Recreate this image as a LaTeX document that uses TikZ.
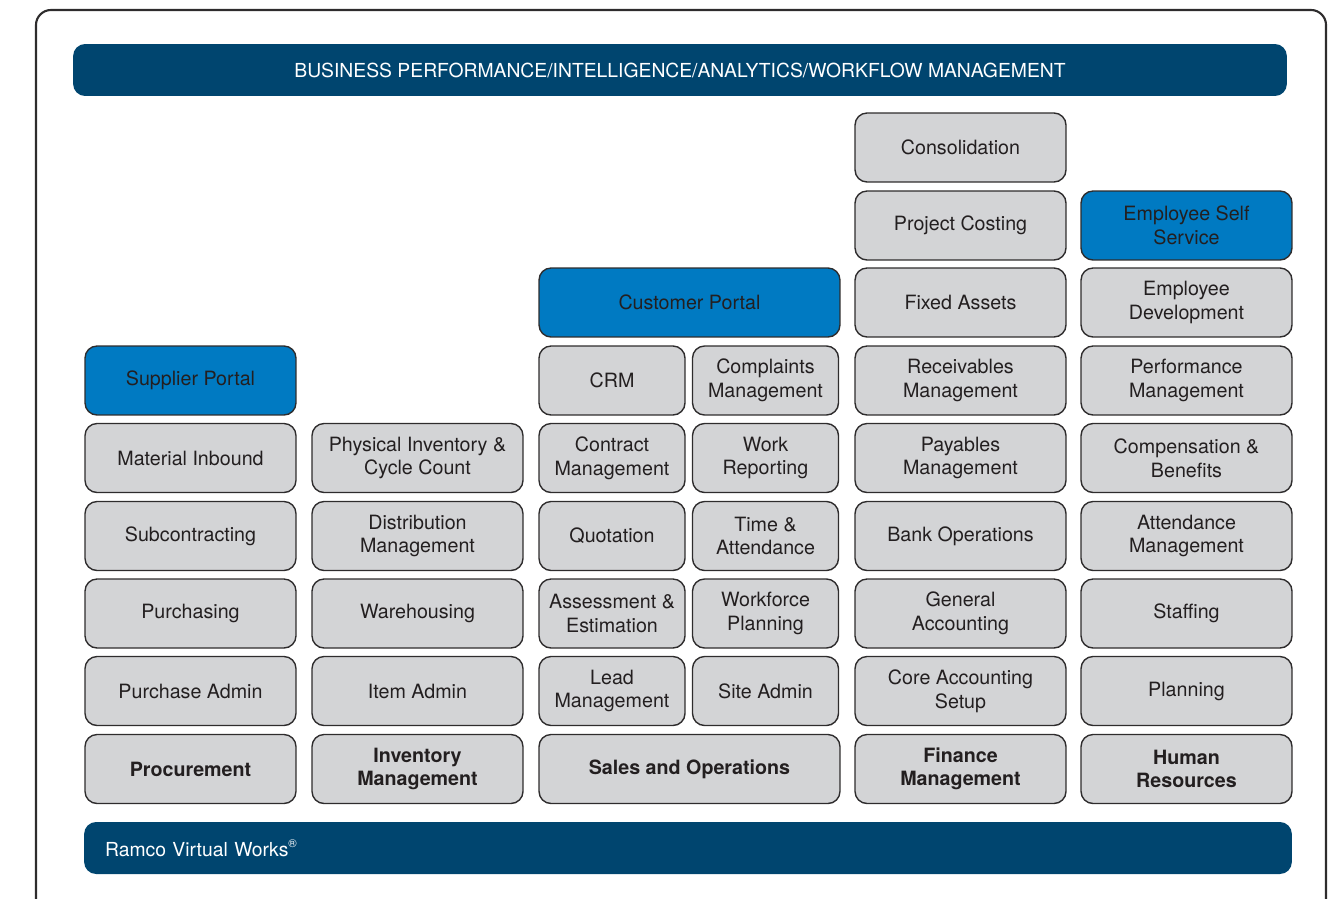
\documentclass[tikz,border=0pt]{standalone}
\usepackage{fontspec}
\setmainfont{TeX Gyre Heros}
\usetikzlibrary{positioning}
\definecolor{ramconavy}{HTML}{00456F}
\definecolor{portalblue}{HTML}{007AC2}
\definecolor{modgray}{HTML}{D3D4D6}
\definecolor{modline}{HTML}{2E2C2D}
\definecolor{ink}{HTML}{231F20}
\tikzset{
  modbox/.style={draw=modline, fill=modgray, line width=0.8pt, rounded corners=0.24cm,
    text=ink, align=center, inner sep=0pt, minimum width=4.22cm, minimum height=1.38cm,
    font=\fontsize{11.2}{13.6}\selectfont},
  halfbox/.style={modbox, minimum width=2.92cm},
  widebox/.style={modbox, minimum width=6.02cm},
  portal/.style={fill=portalblue},
  suite/.style={font=\fontsize{11.2}{13}\selectfont\bfseries},
  banner/.style={fill=ramconavy, rounded corners=0.24cm, inner sep=0pt, text=white,
    minimum height=1.04cm, font=\fontsize{11}{13}\selectfont}
}

\begin{document}
\begin{tikzpicture}[x=0.02cm, y=-0.02cm]
  \useasboundingbox (0,0) rectangle (1335,899);
  \draw[draw=modline, line width=1.2pt, rounded corners=0.3cm] (36,10) rectangle (1326,915);

  % top and bottom bars
  \node[banner, minimum width=24.28cm] (bpm) at (680,70)
    {BUSINESS PERFORMANCE/INTELLIGENCE/ANALYTICS/WORKFLOW MANAGEMENT};
  \node[banner, minimum width=24.16cm, text width=23.32cm, align=left] (rvw) at (688,848)
    {Ramco Virtual Works\raisebox{0.9ex}{\fontsize{6.5}{7}\selectfont\textregistered}};

  % procurement
  \node[modbox, suite] (proc) at (190.5,769) {Procurement};
  \node[modbox] (purchadmin) at (190.5,691) {Purchase Admin};
  \node[modbox] (purch) at (190.5,613.5) {Purchasing};
  \node[modbox] (subcon) at (190.5,536) {Subcontracting};
  \node[modbox] (matin) at (190.5,458) {Material Inbound};
  \node[modbox, portal] (supplier) at (190.5,380.5) {Supplier Portal};

  % inventory
  \node[modbox, suite] (inv) at (417.5,769) {Inventory\\Management};
  \node[modbox] (itemadmin) at (417.5,691) {Item Admin};
  \node[modbox] (wareh) at (417.5,613.5) {Warehousing};
  \node[modbox] (distrib) at (417.5,536) {Distribution\\Management};
  \node[modbox] (physinv) at (417.5,458) {Physical Inventory \&\\Cycle Count};

  % sales and operations
  \node[widebox, suite] (sales) at (689.5,769) {Sales and Operations};
  \node[halfbox] (lead) at (612,691) {Lead\\Management};
  \node[halfbox] (assess) at (612,613.5) {Assessment \&\\Estimation};
  \node[halfbox] (quote) at (612,536) {Quotation};
  \node[halfbox] (contract) at (612,458) {Contract\\Management};
  \node[halfbox] (crm) at (612,380.5) {CRM};
  \node[halfbox] (siteadmin) at (765.5,691) {Site Admin};
  \node[halfbox] (workforce) at (765.5,613.5) {Workforce\\Planning};
  \node[halfbox] (timeatt) at (765.5,536) {Time \&\\Attendance};
  \node[halfbox] (workrep) at (765.5,458) {Work\\Reporting};
  \node[halfbox] (complaints) at (765.5,380.5) {Complaints\\Management};
  \node[widebox, portal] (customer) at (689.5,302.5) {Customer Portal};

  % finance
  \node[modbox, suite] (fin) at (960.5,769) {Finance\\Management};
  \node[modbox] (coreacc) at (960.5,691) {Core Accounting\\Setup};
  \node[modbox] (genacc) at (960.5,613.5) {General\\Accounting};
  \node[modbox] (bankops) at (960.5,536) {Bank Operations};
  \node[modbox] (payables) at (960.5,458) {Payables\\Management};
  \node[modbox] (receivables) at (960.5,380.5) {Receivables\\Management};
  \node[modbox] (fixedassets) at (960.5,302.5) {Fixed Assets};
  \node[modbox] (projcost) at (960.5,225.5) {Project Costing};
  \node[modbox] (consol) at (960.5,147.5) {Consolidation};

  % human resources
  \node[modbox, suite] (hr) at (1186.5,769) {Human\\Resources};
  \node[modbox] (planning) at (1186.5,691) {Planning};
  \node[modbox] (staffing) at (1186.5,613.5) {Staffing};
  \node[modbox] (attmgmt) at (1186.5,536) {Attendance\\Management};
  \node[modbox] (compben) at (1186.5,458) {Compensation \&\\Benefits};
  \node[modbox] (perf) at (1186.5,380.5) {Performance\\Management};
  \node[modbox] (empdev) at (1186.5,302.5) {Employee\\Development};
  \node[modbox, portal] (ess) at (1186.5,225.5) {Employee Self\\Service};
\end{tikzpicture}
\end{document}
